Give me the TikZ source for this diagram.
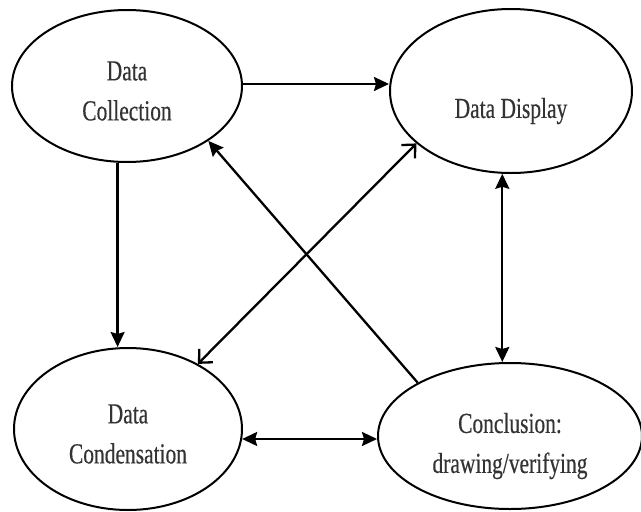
\documentclass[tikz,border=0pt]{standalone}
\usepackage{fontspec}
\setmainfont{Liberation Serif}[FakeStretch=0.74,FakeBold=0.4]
\usetikzlibrary{shapes.geometric,arrows.meta}
\begin{document}
\begin{tikzpicture}[x=1pt,y=-1pt,
  txt/.style={font=\fontsize{29}{40}\selectfont, text=black!80, align=center},
  oval/.style={draw, ellipse, line width=2pt, inner sep=0pt},
  conn/.style={line width=2.3pt},
  solidhead/.style={-{Stealth[length=15pt,width=14pt,inset=2pt]}},
  solidboth/.style={{Stealth[length=15pt,width=14pt,inset=2pt]}-{Stealth[length=15pt,width=14pt,inset=2pt]}},
  openboth/.style={{Straight Barb[length=10pt,width=19pt]}-{Straight Barb[length=10pt,width=19pt]}}
]
\useasboundingbox[fill=white] (0,0) rectangle (641,512);
\node[oval, minimum width=230pt, minimum height=152pt,
      label={[txt, yshift=-5pt]center:Data\\Collection}] (coll) at (127,86) {};
\node[oval, minimum width=242pt, minimum height=164pt,
      label={[txt, yshift=-20pt]center:Data Display}] (disp) at (511,91) {};
\node[oval, minimum width=228pt, minimum height=162pt,
      label={[txt, yshift=-5pt]center:Data\\Condensation}] (cond) at (128,429) {};
\node[oval, minimum width=264pt, minimum height=146pt,
      label={[txt, yshift=-10pt]center:Conclusion:\\drawing/verifying}] (concl) at (510,436) {};
\draw[conn, solidhead] (coll.1) -- (coll.1 -| disp.west);
\draw[conn, solidhead] (coll.-97.5) -- (coll.-97.5 |- cond.north);
\draw[conn, solidboth] (disp.-96) -- (disp.-96 |- concl.north);
\draw[conn, solidboth] (cond.-5) -- (cond.-5 -| concl.west);
\draw[conn, solidhead] (concl.150.8) -- (coll.-34.8);
\draw[conn, openboth] (disp.-151.6) -- (cond.43);
\end{tikzpicture}
\end{document}
